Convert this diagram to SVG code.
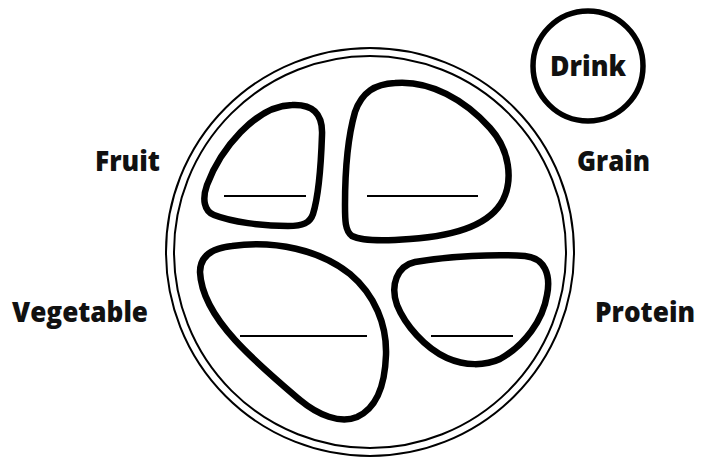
<svg xmlns="http://www.w3.org/2000/svg" width="712" height="458" viewBox="0 0 712 458">
  <style>
    .lbl { font-family: "Open Sans", "Noto Sans", "DejaVu Sans", sans-serif; font-weight: 800; font-size: 29px; fill: #111; }
    .blob { fill: none; stroke: #000; stroke-width: 6.5; stroke-linejoin: round; }
    .ring { fill: none; stroke: #000; stroke-width: 2; }
    .blank { stroke: #000; stroke-width: 2; }
  </style>
  <rect width="712" height="458" fill="#fff"/>
  <g id="plate">
    <circle class="ring" cx="370" cy="252" r="204"/>
    <circle class="ring" cx="370" cy="252" r="196"/>
  </g>
  <g id="fruit">
    <path class="blob" d="M 292 105 C 312 104, 323 113, 322 135 C 321 165, 318 198, 313 214 C 310 223, 303 226, 288 226 C 262 226, 232 222, 214 215 C 204 211, 202 199, 207 185 C 220 150, 255 106, 292 105 Z"/>
    <line class="blank" x1="224" y1="196" x2="306" y2="196"/>
  </g>
  <g id="grain">
    <path class="blob" d="M 395 83 C 430 80, 465 100, 490 128 C 510 150, 513 180, 503 200 C 490 225, 455 236, 410 239 C 385 241, 362 241, 352 236 C 345 231, 345 220, 345 205 C 345 170, 347 140, 355 112 C 362 92, 375 84, 395 83 Z"/>
    <line class="blank" x1="367" y1="196" x2="478" y2="196"/>
  </g>
  <g id="vegetable">
    <path class="blob" d="M 232 246 C 275 240, 320 250, 350 274 C 375 295, 387 325, 386 355 C 385 385, 377 408, 357 417 C 340 424, 318 415, 300 400 C 280 383, 255 362, 235 340 C 215 318, 201 295, 200 272 C 200 255, 213 248, 232 246 Z"/>
    <line class="blank" x1="240" y1="336" x2="367" y2="336"/>
  </g>
  <g id="protein">
    <path class="blob" d="M 415 262 C 450 256, 495 254, 525 256 C 545 258, 551 275, 547 295 C 543 320, 525 345, 500 359 C 485 366, 465 366, 447 358 C 425 348, 405 325, 397 305 C 390 285, 397 266, 415 262 Z"/>
    <line class="blank" x1="431" y1="336" x2="513" y2="336"/>
  </g>
  <g id="drink">
    <circle cx="588" cy="66" r="55" fill="none" stroke="#000" stroke-width="5.5"/>
    <text class="lbl" x="588" y="76" text-anchor="middle" textLength="76" lengthAdjust="spacingAndGlyphs">Drink</text>
  </g>
  <g id="labels">
    <text class="lbl" x="95" y="171" textLength="65" lengthAdjust="spacingAndGlyphs">Fruit</text>
    <text class="lbl" x="577" y="171" textLength="73" lengthAdjust="spacingAndGlyphs">Grain</text>
    <text class="lbl" x="12" y="322" textLength="136" lengthAdjust="spacingAndGlyphs">Vegetable</text>
    <text class="lbl" x="595" y="322" textLength="100" lengthAdjust="spacingAndGlyphs">Protein</text>
  </g>
  <g id="connectors"></g>
</svg>
